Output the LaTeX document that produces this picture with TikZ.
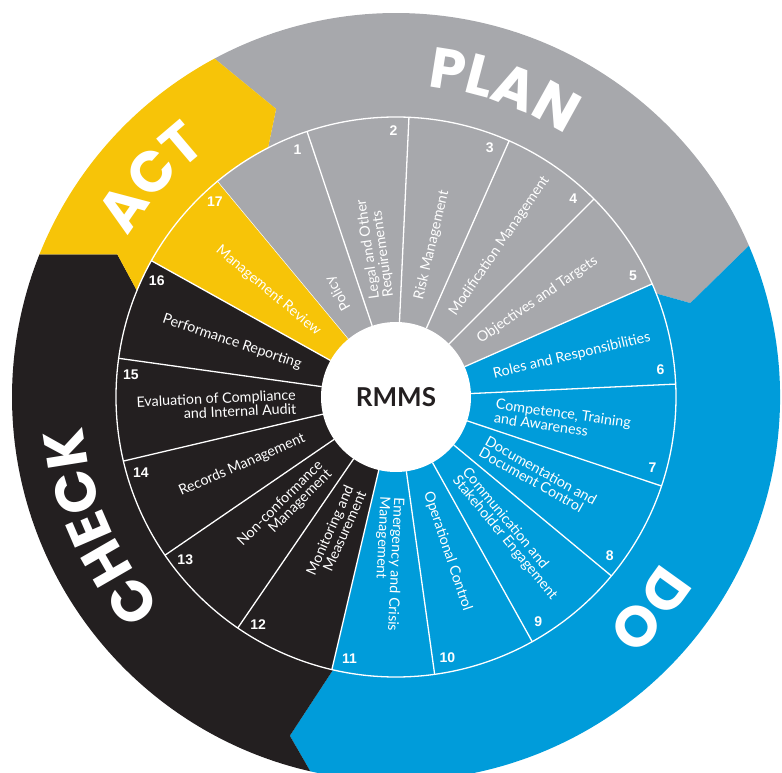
\documentclass[tikz,border=0pt]{standalone}
\usepackage{fontspec}
\setmainfont{Lato}
\newfontfamily\bigfont{Poppins}
\newfontfamily\numfont{Liberation Sans}
\usetikzlibrary{decorations.text}

\definecolor{plangray}{RGB}{167,168,172}
\definecolor{doblue}{RGB}{0,156,218}
\definecolor{checkblack}{RGB}{35,31,32}
\definecolor{actyellow}{RGB}{247,196,8}

\tikzset{
    seglabel/.style={text=white, inner sep=0pt, font=\fontsize{14.3}{12.8}\selectfont},
    segnum/.style={text=white, inner sep=0pt, font=\numfont\bfseries\fontsize{14}{14}\selectfont},
    sepline/.style={white, line width=1.3pt},
    phase/.style={decorate, decoration={text along path, text align=center, text color=white,
        text={|\bigfont\bfseries\fontsize{57}{57}\selectfont|#1}}}
}

\begin{document}
\begin{tikzpicture}[x=1pt,y=1pt]
    \useasboundingbox (-396,-376) rectangle (386,397);
    \clip (-396,-376) rectangle (386,397);

    \fill[plangray] (118.2:384) arc[start angle=118.2, end angle=23.2, radius=384] -- (17.7:309) -- (21.7:280) -- (0,0) -- (117.2:280) -- (112.6:312) -- cycle;
    \fill[doblue] (23.2:384) arc[start angle=23.2, end angle=-102.9, radius=384] -- (-107.4:355) -- (-103:280) -- (0,0) -- (21.7:280) -- (17.7:309) -- cycle;
    \fill[checkblack] (257.1:384) arc[start angle=257.1, end angle=158.2, radius=384] -- (152.9:313) -- (157.7:280) -- (0,0) -- (257:280) -- (252.6:355) -- cycle;
    \fill[actyellow] (158.2:384) arc[start angle=158.2, end angle=118.2, radius=384] -- (112.6:312) -- (117.2:280) -- (0,0) -- (157.7:280) -- (152.9:313) -- cycle;

    \path[phase=PLAN] (118.2:312) arc[start angle=118.2, end angle=23.2, radius=312];
    \path[phase=DO] (23.2:312) arc[start angle=23.2, end angle=-102.9, radius=312];
    \path[phase=CHECK] (257.1:314) arc[start angle=257.1, end angle=150, radius=314];
    \path[phase=ACT] (158.2:312) arc[start angle=158.2, end angle=118.2, radius=312];

    \foreach \i/\col in {1/plangray,2/plangray,3/plangray,4/plangray,5/plangray,
        6/doblue,7/doblue,8/doblue,9/doblue,10/doblue,11/doblue,
        12/checkblack,13/checkblack,14/checkblack,15/checkblack,16/checkblack,17/actyellow} {
        \pgfmathsetmacro\s{129.7-360/17*(\i-1)}
        \pgfmathsetmacro\e{\s-360/17}
        \fill[\col] (\s:75) -- (\s:280) arc[start angle=\s, end angle=\e, radius=280] -- (\e:75) -- cycle;
        \draw[sepline] (\s:75) -- (\s:280);
    }
    \draw[sepline] (0,0) circle[radius=280];
    \fill[white] (0,0) circle[radius=75];
    \node[text=checkblack, font=\bfseries\fontsize{26}{26}\selectfont] (rmms) at (0,0) {RMMS};

    \foreach \i/\txt in {1/Policy, 2/{Legal and Other\\Requirements}, 3/Risk Management,
        4/Modification Management, 5/Objectives and Targets, 6/Roles and Responsibilities,
        7/{Competence, Training\\and Awareness}, 8/{Documentation and\\Document Control},
        9/{Communication and\\Stakeholder Engagement}, 10/Operational Control,
        11/{Emergency and Crisis\\Management}}
        \node[seglabel, anchor=west, align=left, rotate={119.1-360/17*(\i-1)}] (lab\i) at ({119.1-360/17*(\i-1)}:100) {\txt};
    \foreach \i/\txt in {12/{Monitoring and\\Measurement}, 13/{Non-conformance\\Management},
        14/Records Management, 15/{Evaluation of Compliance\\and Internal Audit},
        16/Performance Reporting, 17/Management Review}
        \node[seglabel, anchor=east, align=right, rotate={299.1-360/17*(\i-1)}] (lab\i) at ({119.1-360/17*(\i-1)}:100) {\txt};

    \foreach \i in {1,...,17}
        \node[segnum] (num\i) at ({132.9-360/17*\i}:266) {\i};
\end{tikzpicture}
\end{document}
